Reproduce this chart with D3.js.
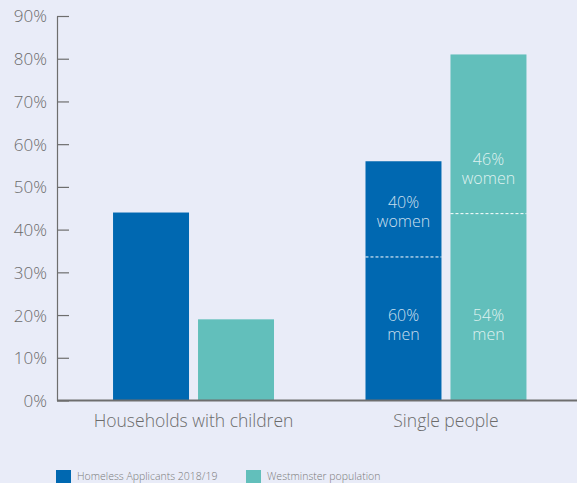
<!DOCTYPE html>
<html>
<head>
<meta charset="utf-8">
<script src="https://cdn.jsdelivr.net/npm/d3@7"></script>
<style>
  html, body { margin: 0; padding: 0; background: #e9ecf8; }
  svg { display: block; font-family: "Open Sans", Lato, sans-serif; }
</style>
</head>
<body>
<svg id="chart" width="577" height="483"></svg>
<script>
// Household type shares (%)
const categories = ["Households with children", "Single people"];
const seriesNames = ["Homeless Applicants 2018/19", "Westminster population"];
const applicants = [44, 56];
const population = [19, 81];
// Gender split within the "Single people" bars (% of bar)
const menShare = [60, 54];
const womenShare = [40, 46];
const yTicks = [0, 10, 20, 30, 40, 50, 60, 70, 80, 90];

const colors = ["#0068b1", "#62bfbb"];
const textGrey = "#6b6b6b";
const FONT = "'Open Sans', Lato, sans-serif";

const svg = d3.select("#chart");
const plotBottom = 400.5;

const y = d3.scaleLinear().domain([0, 90]).range([plotBottom, 16]);
const x0 = d3.scaleBand().domain(categories).range([57.5, 582])
  .paddingInner(0.3624).paddingOuter(0.22);
const x1 = d3.scaleBand().domain(seriesNames).range([0, x0.bandwidth()]).paddingInner(0.106);

const data = categories.map((c, i) => ({
  cat: c,
  vals: [
    { s: seriesNames[0], v: applicants[i], k: 0 },
    { s: seriesNames[1], v: population[i], k: 1 }
  ]
}));

// Bars
const groups = svg.append("g").selectAll("g").data(data).join("g")
  .attr("transform", d => `translate(${x0(d.cat)},0)`);

groups.selectAll("rect").data(d => d.vals).join("rect")
  .attr("x", d => x1(d.s))
  .attr("y", d => y(d.v))
  .attr("width", x1.bandwidth())
  .attr("height", d => y(0) - y(d.v))
  .attr("fill", d => colors[d.k]);

// Gender split for single people
const single = data[1];
const splitG = svg.append("g").attr("transform", `translate(${x0(single.cat)},0)`);
single.vals.forEach((d, k) => {
  const menVal = d.v * menShare[k] / 100;
  const yd = y(menVal);
  const bx = x1(d.s), bw = x1.bandwidth();
  splitG.append("line")
    .attr("x1", bx).attr("x2", bx + bw)
    .attr("y1", yd).attr("y2", yd)
    .attr("stroke", "#ffffff").attr("stroke-width", 1)
    .attr("stroke-dasharray", "3,2");
  const cx = bx + bw / 2;
  // two-line label: percentage above, gender word below
  const lab = (yc, l1, l2) => {
    [[l1, yc - 3], [l2, yc + 16]].forEach(([txt, ty]) => {
      splitG.append("text").attr("text-anchor", "middle")
        .attr("x", cx).attr("y", ty)
        .attr("fill", "#ffffff").attr("fill-opacity", 0.8)
        .attr("font-size", 16).attr("font-weight", 300).attr("font-family", FONT)
        .text(txt);
    });
  };
  lab(yd - 46, womenShare[k] + "%", "women");
  lab(y(18), menShare[k] + "%", "men");
});

// Y axis
const yAxis = svg.append("g").attr("transform", "translate(57,0)")
  .call(d3.axisLeft(y).tickValues(yTicks).tickFormat(d => d + "%").tickSize(0).tickPadding(10));
yAxis.select(".domain").attr("stroke", "#6e6e6e").attr("stroke-width", 1.2);
yAxis.selectAll(".tick text").attr("font-size", 17).attr("fill", textGrey)
  .attr("font-family", FONT).attr("font-weight", 300).attr("dy", "0.35em");
yAxis.selectAll(".tick").append("line")
  .attr("x1", 0).attr("x2", 12).attr("stroke", "#6e6e6e").attr("stroke-width", 1.2);

// X axis
const xAxis = svg.append("g").attr("transform", `translate(0,${plotBottom})`)
  .call(d3.axisBottom(x0).tickSize(0).tickPadding(14));
xAxis.select(".domain").attr("d", `M57,0H577`).attr("stroke", "#6e6e6e").attr("stroke-width", 2);
xAxis.selectAll(".tick text").attr("font-size", 17.5).attr("fill", textGrey)
  .attr("font-family", FONT).attr("font-weight", 300);

// Legend
const legend = svg.append("g");
const legX = [56, 246];
seriesNames.forEach((s, i) => {
  legend.append("rect").attr("x", legX[i]).attr("y", 470).attr("width", 15).attr("height", 15)
    .attr("fill", colors[i]);
  legend.append("text").attr("x", legX[i] + 21).attr("y", 480)
    .attr("font-size", 10.5).attr("fill", "#7a7a7a").attr("font-weight", 300)
    .attr("font-family", FONT).text(s);
});
</script>
</body>
</html>
